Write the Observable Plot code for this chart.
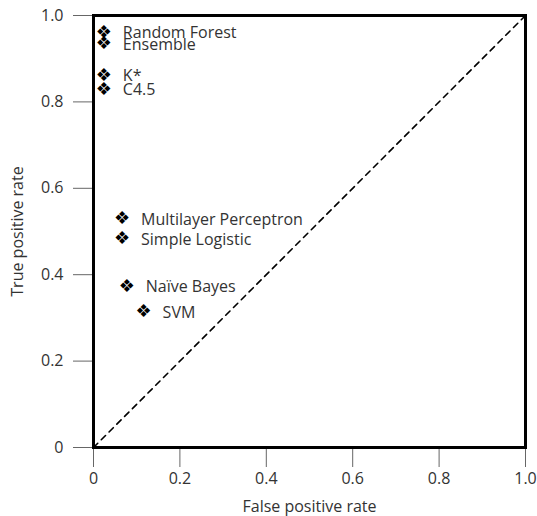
<!DOCTYPE html>
<html><head><meta charset="utf-8">
<script src="https://cdn.jsdelivr.net/npm/d3@7"></script>
<script src="https://cdn.jsdelivr.net/npm/@observablehq/plot@0.6"></script>
<style>body{margin:0;background:#fff}</style>
</head><body><div id="chart"></div>
<script>
const classifiers = ["Random Forest","Ensemble","K*","C4.5","Multilayer Perceptron","Simple Logistic","Naïve Bayes","SVM"];
const fpr = [0.024,0.024,0.024,0.024,0.066,0.066,0.077,0.116];
const tpr = [0.962,0.935,0.862,0.83,0.530,0.484,0.373,0.315];
const xTicks = [0,0.2,0.4,0.6,0.8,1.0];
const yTicks = [0,0.2,0.4,0.6,0.8,1.0];
const tickLabels = ["0","0.2","0.4","0.6","0.8","1.0"];
const diagonal = [0,1];

const data = classifiers.map((c,i)=>({name:c,x:fpr[i],y:tpr[i]}));
const fmt = d => tickLabels[xTicks.indexOf(d)];
const font = "Open Sans, sans-serif";

const chart = Plot.plot({
  width: 537, height: 516,
  marginLeft: 93, marginRight: 12, marginTop: 15, marginBottom: 69,
  style: {fontFamily: font, fontSize: "16px", color: "#333", background: "#fff"},
  x: {domain:[0,1]},
  y: {domain:[0,1]},
  marks: [
    Plot.axisX({ticks: xTicks, tickFormat: fmt, tickSize: 20, tickPadding: 5, stroke: "#666", fontSize: 16,
      label: "False positive rate", labelAnchor: "center", labelArrow: "none", labelOffset: 64}),
    Plot.axisY({ticks: yTicks, tickFormat: fmt, tickSize: 20, tickPadding: 10, stroke: "#666", fontSize: 16,
      label: "True positive rate", labelAnchor: "center", labelArrow: "none", labelOffset: 82}),
    Plot.line(diagonal.map(v=>({x:v,y:v})), {x:"x", y:"y", stroke:"#000", strokeWidth:1.6, strokeDasharray:"6,5"}),
    Plot.text(data, {x:"x", y:"y", text: ()=>"❖", fontSize: 18, fill:"#000", fontFamily:"DejaVu Sans"}),
    Plot.text(data, {x:"x", y:"y", text:"name", dx: 19, dy: 1, textAnchor:"start", fontSize: 16, fill:"#333", fontFamily: font}),
    Plot.frame({stroke:"#000", strokeWidth:3})
  ]
});
document.getElementById("chart").appendChild(chart);
</script></body></html>
